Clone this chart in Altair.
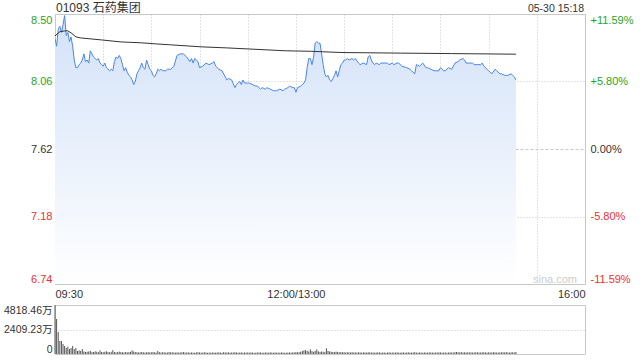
import altair as alt
import pandas as pd

TITLE = "01093 石药集团"
STAMP = "05-30 15:18"
WATERMARK = "sina.com"
PRICE_TICKS = [8.50, 8.06, 7.62, 7.18, 6.74]
PCT_LABELS = ["+11.59%", "+5.80%", "0.00%", "-5.80%", "-11.59%"]
VOL_TICKS = [0, 2409.23, 4818.46]
TIME_TICKS = [0, 30, 60, 90, 120, 150, 180, 210, 240, 270, 300, 330]
TIME_LABELS = {0: "09:30", 150: "12:00/13:00", 330: "16:00"}

# trading minute index (0 = 09:30, 150 = 12:00/13:00, 330 = 16:00)
minute = [0, 1, 2, 3, 4, 5, 6, 7, 8, 9, 10, 11, 12, 13, 14, 15, 16, 17, 18, 19,
          20, 21, 22, 23, 24, 25, 26, 27, 28, 29, 30, 31, 32, 33, 34, 35, 36, 37, 38, 39,
          40, 41, 42, 43, 44, 45, 46, 47, 48, 49, 50, 51, 52, 53, 54, 55, 56, 57, 58, 59,
          60, 61, 62, 63, 64, 65, 66, 67, 68, 69, 70, 72, 74, 76, 78, 80, 82, 84, 85, 86,
          87, 89, 90, 92, 94, 96, 98, 99, 100, 102, 104, 106, 107, 108, 110, 112, 113, 114, 115, 116,
          117, 118, 120, 121, 123, 125, 126, 128, 129, 131, 132, 134, 136, 138, 140, 142, 143, 145, 146, 148,
          149, 150, 151, 153, 155, 156, 157, 158, 159, 160, 161, 162, 163, 164, 165, 166, 167, 168, 169, 170,
          171, 172, 173, 174, 175, 176, 177, 178, 179, 180, 181, 182, 183, 185, 186, 187, 189, 190, 192, 194,
          195, 196, 197, 198, 199, 200, 202, 203, 205, 207, 208, 210, 211, 213, 214, 216, 219, 221, 222, 224,
          225, 227, 229, 231, 232, 234, 236, 237, 239, 240, 242, 243, 245, 247, 248, 249, 251, 252, 254, 255,
          256, 258, 260, 261, 263, 265, 266, 267, 269, 270, 272, 274, 275, 277, 278, 280, 281, 282, 284, 285,
          286, 287]
price = [8.34, 8.29, 8.40, 8.42, 8.38, 8.43, 8.49, 8.36, 8.38, 8.32, 8.35, 8.29, 8.20, 8.15, 8.15, 8.17, 8.18, 8.20, 8.24, 8.19,
         8.20, 8.18, 8.26, 8.24, 8.22, 8.21, 8.20, 8.21, 8.18, 8.17, 8.16, 8.18, 8.15, 8.14, 8.13, 8.14, 8.13, 8.19, 8.22, 8.21,
         8.23, 8.21, 8.17, 8.13, 8.15, 8.12, 8.10, 8.09, 8.07, 8.04, 8.06, 8.11, 8.13, 8.15, 8.18, 8.15, 8.14, 8.20, 8.17, 8.14,
         8.13, 8.10, 8.09, 8.11, 8.14, 8.13, 8.14, 8.13, 8.13, 8.13, 8.14, 8.14, 8.16, 8.23, 8.24, 8.24, 8.22, 8.19, 8.21, 8.18,
         8.21, 8.19, 8.15, 8.16, 8.18, 8.17, 8.18, 8.19, 8.16, 8.14, 8.13, 8.09, 8.07, 8.08, 8.07, 8.02, 8.04, 8.05, 8.06, 8.04,
         8.07, 8.05, 8.05, 8.05, 8.04, 8.03, 8.03, 8.01, 8.02, 8.01, 8.02, 8.01, 8.00, 8.00, 8.01, 8.00, 8.01, 8.02, 8.03, 8.02,
         8.02, 7.99, 8.02, 8.03, 8.05, 8.07, 8.15, 8.21, 8.21, 8.17, 8.22, 8.31, 8.32, 8.31, 8.31, 8.24, 8.17, 8.11, 8.09, 8.10,
         8.07, 8.06, 8.08, 8.10, 8.13, 8.09, 8.13, 8.17, 8.18, 8.20, 8.20, 8.21, 8.20, 8.21, 8.20, 8.21, 8.18, 8.17, 8.18, 8.17,
         8.22, 8.23, 8.20, 8.18, 8.17, 8.18, 8.17, 8.18, 8.18, 8.18, 8.17, 8.18, 8.17, 8.18, 8.18, 8.16, 8.15, 8.14, 8.13, 8.11,
         8.17, 8.16, 8.18, 8.15, 8.15, 8.14, 8.13, 8.13, 8.13, 8.15, 8.13, 8.13, 8.15, 8.14, 8.16, 8.18, 8.19, 8.20, 8.21, 8.20,
         8.18, 8.18, 8.18, 8.17, 8.17, 8.17, 8.18, 8.16, 8.14, 8.13, 8.11, 8.14, 8.13, 8.11, 8.11, 8.10, 8.10, 8.10, 8.11, 8.10,
         8.09, 8.07]

avg_minute = [0, 3, 6, 8, 10, 13, 16, 29, 41, 54, 63, 72, 91, 107, 144, 159, 178, 215, 247, 287]
avg_price = [8.357, 8.384, 8.390, 8.390, 8.377, 8.351, 8.344, 8.331, 8.318, 8.312, 8.305, 8.299,
             8.286, 8.279, 8.260, 8.257, 8.249, 8.245, 8.242, 8.238]

# volume per minute (万股), minutes 0..287
volume = [4818, 3440, 2160, 1280, 1280, 980, 790, 590, 720, 490, 590, 790, 490, 590, 300, 350, 300, 490, 250, 200,
          220, 250, 300, 180, 200, 260, 220, 180, 350, 200, 180, 220, 260, 190, 170, 210, 380, 200, 160, 180,
          230, 190, 170, 150, 200, 160, 180, 210, 350, 240, 190, 170, 150, 160, 200, 170, 140, 160, 190, 150,
          170, 200, 160, 140, 300, 180, 150, 170, 160, 150, 140, 190, 160, 170, 150, 130, 160, 140, 150, 170,
          180, 150, 140, 160, 130, 150, 140, 120, 160, 170, 150, 130, 140, 160, 150, 120, 140, 130, 150, 140,
          130, 150, 160, 140, 120, 180, 150, 140, 160, 130, 150, 140, 170, 150, 130, 140, 160, 120, 150, 140,
          150, 130, 160, 140, 120, 130, 150, 140, 160, 120, 130, 150, 140, 130, 160, 140, 120, 150, 130, 140,
          130, 150, 140, 120, 130, 140, 150, 130, 160, 140,
          200, 160, 180, 220, 300, 350, 380, 300, 250, 460, 280, 220, 300, 450, 260, 200, 250, 220, 180, 560,
          300, 250, 220, 200, 180, 230, 200, 170, 190, 160, 180, 150, 170, 160, 140, 180, 150, 160, 140, 170,
          150, 140, 160, 150, 130, 170, 160, 140, 150, 130, 140, 160, 150, 130, 140, 150, 120, 140, 160, 130,
          140, 150, 130, 160, 140, 120, 150, 140, 130, 150, 160, 140, 130, 150, 180, 140, 130, 150, 140, 130,
          150, 140, 130, 160, 150, 140, 130, 150, 140, 160, 150, 130, 140, 150, 130, 140, 160, 150, 140, 180,
          200, 170, 160, 180, 150, 160, 140, 170, 150, 160, 140, 150, 170, 160, 150, 140, 160, 170, 150, 140,
          160, 150, 140, 170, 160, 150, 140, 160, 150, 170, 160, 180, 150, 140, 160, 170, 150, 200]

GREEN = "#1fa61f"
RED = "#ee2f2f"
INK = "#333333"
GRID = "#c8c8c8"
FONT = "Liberation Sans, Arial, Noto Sans CJK SC"

W = 530
H_PRICE = 270
H_VOL = 49

price_df = pd.DataFrame({"t": minute, "price": price})
avg_df = pd.DataFrame({"t": avg_minute, "avg": avg_price})
vol_df = pd.DataFrame({"t": list(range(len(volume))), "vol": volume})

time_expr = " : ".join(f"datum.value == {k} ? '{v}'" for k, v in TIME_LABELS.items()) + " : ''"
pct_expr = " : ".join(f"abs(datum.value - {p}) < 0.001 ? '{l}'" for p, l in zip(PRICE_TICKS, PCT_LABELS)) + " : ''"

label_color = {"condition": [{"test": "datum.value > 7.63", "value": GREEN},
                             {"test": "datum.value < 7.61", "value": RED}],
               "value": INK}

x_scale = alt.Scale(domain=[0, 330], nice=False, zero=False)
y_scale = alt.Scale(domain=[6.74, 8.50], nice=False, zero=False)

x_enc = alt.X("t:Q", scale=x_scale, title=None,
              axis=alt.Axis(values=TIME_TICKS, labelExpr=time_expr, labelFlush=True,
                            labelOverlap=False, ticks=False, domain=False, labelPadding=4,
                            grid=True, gridColor=GRID, gridDash=[1, 2], labelColor=INK,
                            labelFontSize=11))

gradient = alt.Gradient(gradient="linear",
                        stops=[alt.GradientStop(color="#d3e2f8", offset=0),
                               alt.GradientStop(color="#ffffff", offset=1)],
                        x1=1, x2=1, y1=0, y2=1)

area = alt.Chart(price_df).mark_area(color=gradient, clip=True).encode(
    x=x_enc,
    y=alt.Y("price:Q", scale=y_scale, axis=None),
    y2=alt.datum(6.74),
)

line = alt.Chart(price_df).mark_line(color="#4a86e8", strokeWidth=1, clip=True).encode(
    x=x_enc,
    y=alt.Y("price:Q", scale=y_scale, title=None,
            axis=alt.Axis(values=PRICE_TICKS, format=".2f", labelFlush=True, ticks=False,
                          domain=False, labelPadding=3, grid=True, gridColor=GRID,
                          gridDash={"condition": {"test": "abs(datum.value - 7.62) < 0.001",
                                                  "value": [3, 2]}, "value": [1, 2]},
                          labelColor=label_color, labelFontSize=11)),
)

avg = alt.Chart(avg_df).mark_line(color="#333333", strokeWidth=1, clip=True).encode(
    x=x_enc,
    y=alt.Y("avg:Q", scale=y_scale, title=None,
            axis=alt.Axis(orient="right", values=PRICE_TICKS, labelExpr=pct_expr,
                          labelFlush=True, ticks=False, domain=False, labelPadding=5,
                          grid=False, labelColor=label_color, labelFontSize=11)),
)

one_row = alt.Data(values=[{}])

title_txt = alt.Chart(one_row).mark_text(
    align="left", baseline="alphabetic", fontSize=12, color=INK, font=FONT
).encode(x=alt.value(1), y=alt.value(-2), text=alt.value(TITLE))

stamp = alt.Chart(one_row).mark_text(
    align="right", baseline="alphabetic", fontSize=10.5, color=INK, font=FONT
).encode(x=alt.value(W - 1), y=alt.value(-2), text=alt.value(STAMP))

mark_wm = alt.Chart(one_row).mark_text(
    align="right", baseline="alphabetic", fontSize=11, color="#cccccc", font=FONT
).encode(x=alt.value(W - 8), y=alt.value(H_PRICE - 1), text=alt.value(WATERMARK))

price_panel = alt.layer(area, line, avg, title_txt, stamp, mark_wm).resolve_scale(
    y="independent").properties(width=W, height=H_PRICE)

vol_panel = alt.Chart(vol_df).mark_rule(color="#555555", strokeWidth=1).encode(
    x=alt.X("t:Q", scale=x_scale, axis=None),
    y=alt.Y("vol:Q", scale=alt.Scale(domain=[0, 4818.46], nice=False), title=None,
            axis=alt.Axis(values=VOL_TICKS, labelFlush=True, ticks=False, domain=False,
                          labelPadding=3, grid=True, gridColor=GRID, gridDash=[1, 2],
                          labelColor=INK, labelFontSize=10.5,
                          labelExpr="datum.value == 0 ? '0' : format(datum.value, '.2f') + '万'")),
    y2=alt.datum(0),
).properties(width=W, height=H_VOL)

chart = alt.vconcat(price_panel, vol_panel, spacing=21, bounds="flush").properties(
    padding={"left": 3, "top": 1, "right": 5, "bottom": 2},
    background="white",
).configure_view(stroke=GRID).configure_axis(labelFont=FONT)

chart.save("out.html", embed_options={"renderer": "svg", "actions": False})
